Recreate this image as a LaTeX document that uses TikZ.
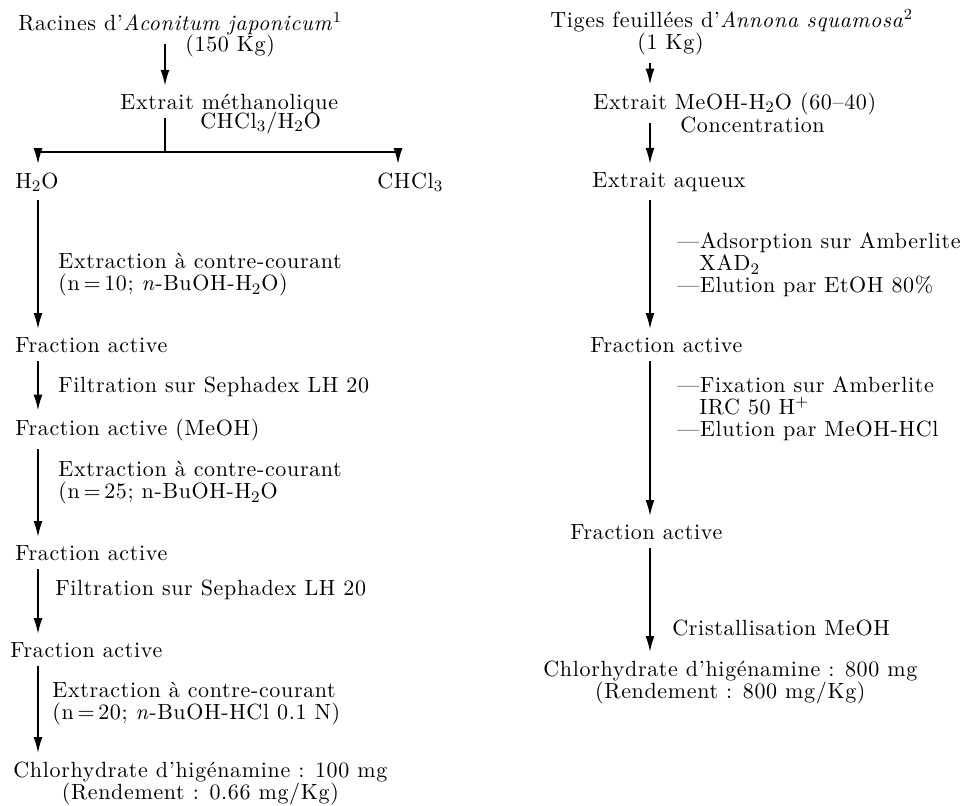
\documentclass[tikz,border=0pt]{standalone}
\usepackage{amsmath}
\usepackage{fontspec}
\setmainfont{Latin Modern Roman}[LetterSpace=3]
\usepackage{tikz}
\usetikzlibrary{arrows.meta}
\tikzset{
  flowstep/.style = {
    anchor=west,
    inner xsep=0pt,
    inner ysep=2pt,
    font=\fontsize{11}{11}\selectfont
  },
  flowlabel/.style = {
    flowstep,
    align=left
  },
  flowresult/.style = {
    flowstep,
    align=center
  },
  flowline/.style = {
    line width=0.9pt
  },
  flowarrow/.style = {
    -{Latex[length=8pt,width=4.5pt]},
    line width=0.9pt,
    shorten <=2pt,
    shorten >=2pt
  }
}

\begin{document}
\begin{tikzpicture}[x=0.5pt,y=-0.5pt]
    \useasboundingbox (0,0) rectangle (960,805);
    \coordinate (axeA) at (165,0);
    \coordinate (axeB) at (38,0);
    \coordinate (axeC) at (650,0);
    % Aconitum japonicum
    \node[flowstep] (racines) at (18,24) {Racines d'\textit{Aconitum japonicum}\textsuperscript{1}};
    \node[flowstep] (masseA) at (185,46) {(150 Kg)};
    \node[flowstep] (extraitA) at (120,104) {Extrait méthanolique};
    \node[flowstep] (solvA) at (200,123) {CHCl$_3$/H$_2$O};
    \node[flowstep] (h2o) at (15,182) {H$_2$O};
    \node[flowstep] (chcl3) at (377,182) {CHCl$_3$};
    \node[flowlabel] (ccA) at (58,275) {Extraction à contre-courant\\(n\,=\,10; \textit{n}-BuOH-H$_2$O)};
    \node[flowstep] (faA) at (15,345) {Fraction active};
    \node[flowlabel] (sephA) at (58,387) {Filtration sur Sephadex LH 20};
    \node[flowstep] (faB) at (15,430) {Fraction active (MeOH)};
    \node[flowlabel] (ccB) at (58,483) {Extraction à contre-courant\\(n\,=\,25; n-BuOH-H$_2$O};
    \node[flowstep] (faC) at (15,553) {Fraction active};
    \node[flowlabel] (sephB) at (55,590) {Filtration sur Sephadex LH 20};
    \node[flowstep] (faD) at (10,650) {Fraction active};
    \node[flowlabel] (ccC) at (52,704) {Extraction à contre-courant\\(n\,=\,20; \textit{n}-BuOH-HCl 0.1 N)};
    \node[flowresult] (chlorA) at (13,783) {Chlorhydrate d'higénamine : 100 mg\\(Rendement : 0.66 mg/Kg)};
    \coordinate (jonction) at (165,152);
    \coordinate (brG) at (38,152);
    \coordinate (brD) at (398,152);
    \draw[flowarrow] (racines.south -| axeA) -- (extraitA.north -| axeA);
    \draw[flowline] (extraitA.south -| axeA) -- (jonction);
    \draw[flowline] (brG) -- (brD);
    \draw[flowarrow, shorten <=0pt] (brG) -- (brG |- h2o.north);
    \draw[flowarrow, shorten <=0pt] (brD) -- (brD |- chcl3.north);
    \draw[flowarrow] (h2o.south -| axeB) -- (faA.north -| axeB);
    \draw[flowarrow] (faA.south -| axeB) -- (faB.north -| axeB);
    \draw[flowarrow] (faB.south -| axeB) -- (faC.north -| axeB);
    \draw[flowarrow] (faC.south -| axeB) -- (faD.north -| axeB);
    \draw[flowarrow] (faD.south -| axeB) -- (chlorA.north -| axeB);
    % Annona squamosa
    \node[flowstep] (tiges) at (550,21) {Tiges feuillées d'\textit{Annona squamosa}\textsuperscript{2}};
    \node[flowstep] (masseB) at (637,44) {(1 Kg)};
    \node[flowstep] (extraitB) at (593,104) {Extrait MeOH-H$_2$O (60--40)};
    \node[flowstep] (concB) at (680,125) {Concentration};
    \node[flowstep] (aqueux) at (592,182) {Extrait aqueux};
    \node[flowlabel] (xad) at (677,265) {---Adsorption sur Amberlite\\\hphantom{---}XAD$_2$\\---Elution par EtOH 80\%};
    \node[flowstep] (faE) at (590,345) {Fraction active};
    \node[flowlabel] (irc) at (677,409) {---Fixation sur Amberlite\\\hphantom{---}IRC 50 H\textsuperscript{+}\\---Elution par MeOH-HCl};
    \node[flowstep] (faF) at (570,532) {Fraction active};
    \node[flowlabel] (cristB) at (672,628) {Cristallisation MeOH};
    \node[flowresult] (chlorB) at (543,682) {Chlorhydrate d'higénamine : 800 mg\\(Rendement : 800 mg/Kg)};
    \draw[flowarrow] (masseB.south -| axeC) -- (extraitB.north -| axeC);
    \draw[flowarrow] (extraitB.south -| axeC) -- (aqueux.north -| axeC);
    \draw[flowarrow] (aqueux.south -| axeC) -- (faE.north -| axeC);
    \draw[flowarrow] (faE.south -| axeC) -- (faF.north -| axeC);
    \draw[flowarrow] (faF.south -| axeC) -- (chlorB.north -| axeC);
\end{tikzpicture}
\end{document}
